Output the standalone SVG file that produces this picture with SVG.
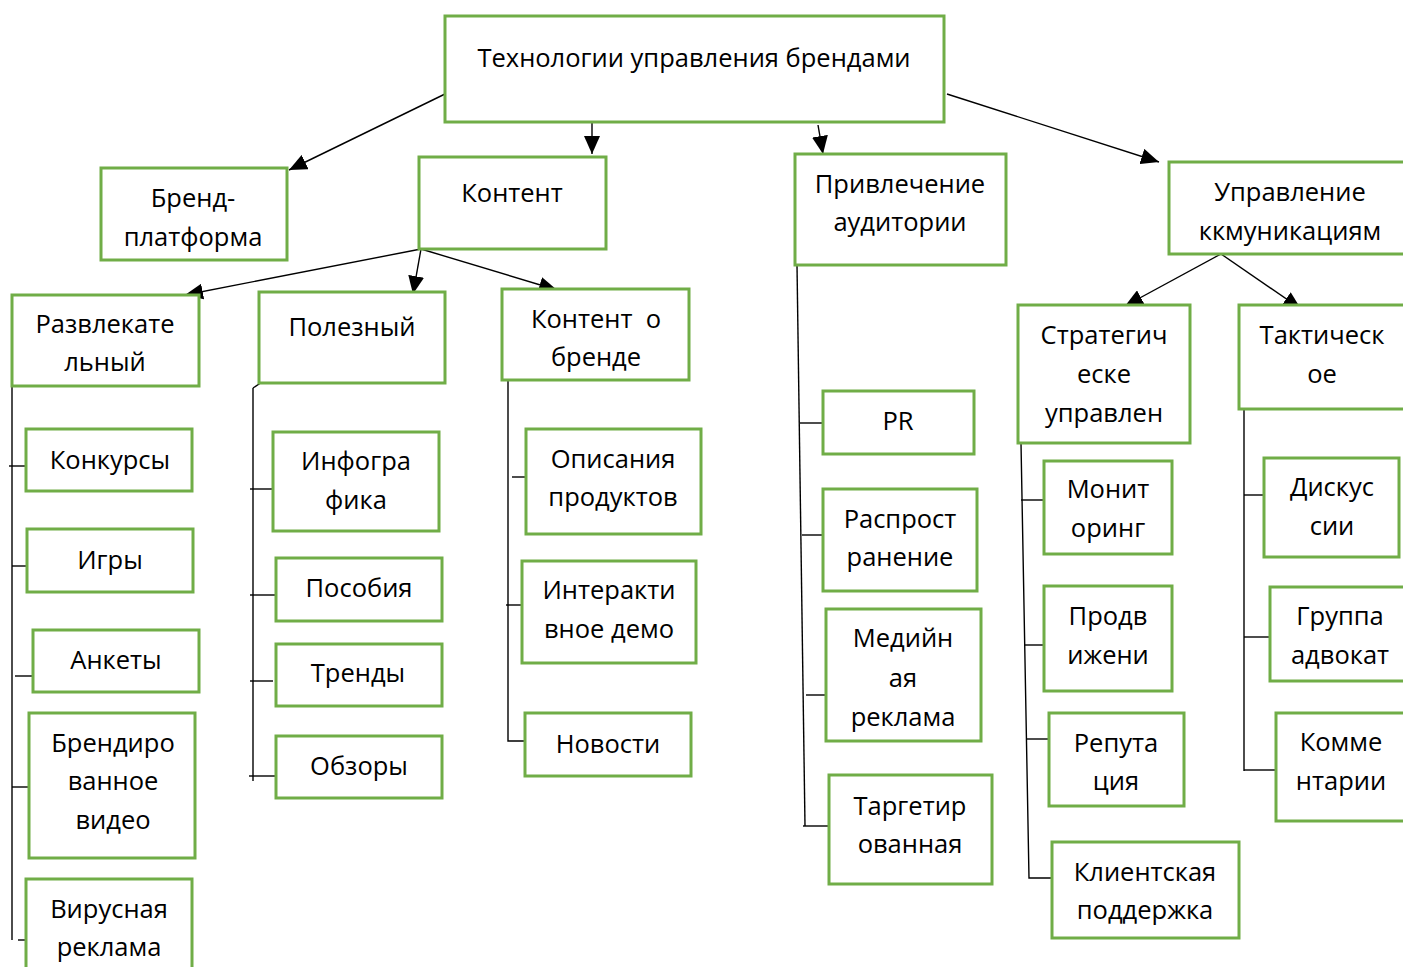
<svg xmlns="http://www.w3.org/2000/svg" width="1403" height="967" viewBox="0 0 1403 967">
<style>
.n rect{fill:#fff;stroke:#70AD47;stroke-width:3}
.n text{font-family:"Open Sans","Noto Sans",sans-serif;font-size:25.5px;fill:#000;text-anchor:middle}
.c line,.c path{stroke:#000;stroke-width:1.4;fill:none}
</style>
<defs>
<marker id="ah" markerUnits="userSpaceOnUse" markerWidth="20" markerHeight="16" refX="18" refY="8" orient="auto">
<path d="M0,0 L18,8 L0,16 Z" fill="#000"/>
</marker>
</defs>
<rect width="1403" height="967" fill="#fff"/>
<g class="c">
<line x1="445" y1="94" x2="289" y2="170" marker-end="url(#ah)"/>
<line x1="592" y1="122" x2="592" y2="154" marker-end="url(#ah)"/>
<line x1="818" y1="125" x2="823" y2="154" marker-end="url(#ah)"/>
<line x1="947" y1="94" x2="1159" y2="162" marker-end="url(#ah)"/>
<line x1="421" y1="249" x2="185" y2="295" marker-end="url(#ah)"/>
<line x1="421" y1="249" x2="413" y2="294" marker-end="url(#ah)"/>
<line x1="421" y1="249" x2="557" y2="290" marker-end="url(#ah)"/>
<line x1="1221" y1="254" x2="1125" y2="306" marker-end="url(#ah)"/>
<line x1="1221" y1="254" x2="1301" y2="309" marker-end="url(#ah)"/>
<line x1="12" y1="386" x2="12" y2="940"/>
<line x1="9" y1="466" x2="26" y2="466"/>
<line x1="12" y1="566" x2="27" y2="566"/>
<line x1="15" y1="676" x2="33" y2="676"/>
<line x1="12" y1="787" x2="29" y2="787"/>
<line x1="18" y1="940" x2="26" y2="940"/>
<line x1="253" y1="388" x2="253" y2="781"/>
<line x1="253" y1="388" x2="262" y2="382"/>
<line x1="250" y1="489" x2="273" y2="489"/>
<line x1="250" y1="595" x2="276" y2="595"/>
<line x1="250" y1="681" x2="273" y2="681"/>
<line x1="249" y1="776" x2="276" y2="776"/>
<path d="M508,380 L508,741 L525,741"/>
<line x1="512" y1="477" x2="526" y2="477"/>
<line x1="506" y1="605" x2="522" y2="605"/>
<line x1="797" y1="265" x2="805" y2="826"/>
<line x1="800" y1="423" x2="823" y2="423"/>
<line x1="802" y1="535" x2="823" y2="535"/>
<line x1="806" y1="695" x2="826" y2="695"/>
<line x1="803" y1="826" x2="829" y2="826"/>
<path d="M1021,443 L1029,878 L1052,878"/>
<line x1="1021" y1="500" x2="1044" y2="500"/>
<line x1="1024" y1="645" x2="1044" y2="645"/>
<line x1="1026" y1="739" x2="1049" y2="739"/>
<line x1="1244" y1="409" x2="1244" y2="771"/>
<line x1="1244" y1="495" x2="1264" y2="495"/>
<line x1="1244" y1="637" x2="1270" y2="637"/>
<line x1="1244" y1="770" x2="1276" y2="770"/>
</g>
<g id="root" class="n"><rect x="445" y="16" width="499" height="106"/><text x="694" y="67">Технологии управления брендами</text></g>
<g id="brand" class="n"><rect x="101" y="168" width="186" height="92"/><text x="193" y="207">Бренд-</text><text x="193" y="246">платформа</text></g>
<g id="content" class="n"><rect x="419" y="157" width="187" height="92"/><text x="512" y="202">Контент</text></g>
<g id="audience" class="n"><rect x="795" y="154" width="211" height="111"/><text x="900" y="193">Привлечение</text><text x="900" y="231">аудитории</text></g>
<g id="comm" class="n"><rect x="1169" y="162" width="240" height="92"/><text x="1290" y="201">Управление</text><text x="1290" y="240">ккмуникациям</text></g>
<g id="fun" class="n"><rect x="12" y="295" width="187" height="91"/><text x="105" y="333">Развлекате</text><text x="105" y="371">льный</text></g>
<g id="useful" class="n"><rect x="259" y="292" width="186" height="91"/><text x="352" y="336">Полезный</text></g>
<g id="about" class="n"><rect x="502" y="289" width="187" height="91"/><text x="596" y="328" xml:space="preserve">Контент  о</text><text x="596" y="366">бренде</text></g>
<g id="strat" class="n"><rect x="1018" y="305" width="172" height="138"/><text x="1104" y="344">Стратегич</text><text x="1104" y="383">еске</text><text x="1104" y="422">управлен</text></g>
<g id="tact" class="n"><rect x="1239" y="305" width="170" height="104"/><text x="1322" y="344">Тактическ</text><text x="1322" y="383">ое</text></g>
<g id="konk" class="n"><rect x="26" y="429" width="166" height="62"/><text x="110" y="469">Конкурсы</text></g>
<g id="igry" class="n"><rect x="27" y="529" width="166" height="63"/><text x="110" y="569">Игры</text></g>
<g id="anket" class="n"><rect x="33" y="630" width="166" height="62"/><text x="116" y="669">Анкеты</text></g>
<g id="video" class="n"><rect x="29" y="713" width="166" height="145"/><text x="113" y="752">Брендиро</text><text x="113" y="790">ванное</text><text x="113" y="829">видео</text></g>
<g id="viral" class="n"><rect x="26" y="879" width="166" height="100"/><text x="109" y="918">Вирусная</text><text x="109" y="956">реклама</text></g>
<g id="info" class="n"><rect x="273" y="432" width="166" height="99"/><text x="356" y="470">Инфогра</text><text x="356" y="509">фика</text></g>
<g id="posob" class="n"><rect x="276" y="558" width="166" height="63"/><text x="359" y="597">Пособия</text></g>
<g id="trend" class="n"><rect x="276" y="644" width="166" height="62"/><text x="358" y="682">Тренды</text></g>
<g id="obzor" class="n"><rect x="276" y="736" width="166" height="62"/><text x="359" y="775">Обзоры</text></g>
<g id="desc" class="n"><rect x="526" y="429" width="175" height="105"/><text x="613" y="468">Описания</text><text x="613" y="506">продуктов</text></g>
<g id="demo" class="n"><rect x="522" y="561" width="174" height="102"/><text x="609" y="599">Интеракти</text><text x="609" y="638">вное демо</text></g>
<g id="news" class="n"><rect x="525" y="713" width="166" height="63"/><text x="608" y="753">Новости</text></g>
<g id="pr" class="n"><rect x="823" y="391" width="151" height="63"/><text x="898" y="430">PR</text></g>
<g id="distr" class="n"><rect x="823" y="489" width="154" height="102"/><text x="900" y="528">Распрост</text><text x="900" y="566">ранение</text></g>
<g id="media" class="n"><rect x="826" y="609" width="155" height="132"/><text x="903" y="647">Медийн</text><text x="903" y="687">ая</text><text x="903" y="726">реклама</text></g>
<g id="target" class="n"><rect x="829" y="775" width="163" height="109"/><text x="910" y="815">Таргетир</text><text x="910" y="853">ованная</text></g>
<g id="monit" class="n"><rect x="1044" y="461" width="128" height="93"/><text x="1108" y="498">Монит</text><text x="1108" y="537">оринг</text></g>
<g id="prodv" class="n"><rect x="1044" y="586" width="128" height="105"/><text x="1108" y="625">Продв</text><text x="1108" y="664">ижени</text></g>
<g id="repu" class="n"><rect x="1049" y="713" width="135" height="93"/><text x="1116" y="752">Репута</text><text x="1116" y="790">ция</text></g>
<g id="client" class="n"><rect x="1052" y="842" width="187" height="96"/><text x="1145" y="881">Клиентская</text><text x="1145" y="919">поддержка</text></g>
<g id="disc" class="n"><rect x="1264" y="458" width="135" height="99"/><text x="1332" y="496">Дискус</text><text x="1332" y="535">сии</text></g>
<g id="advoc" class="n"><rect x="1270" y="587" width="140" height="94"/><text x="1340" y="625">Группа</text><text x="1340" y="664">адвокат</text></g>
<g id="comm2" class="n"><rect x="1276" y="713" width="134" height="108"/><text x="1341" y="751">Комме</text><text x="1341" y="790">нтарии</text></g>
</svg>
